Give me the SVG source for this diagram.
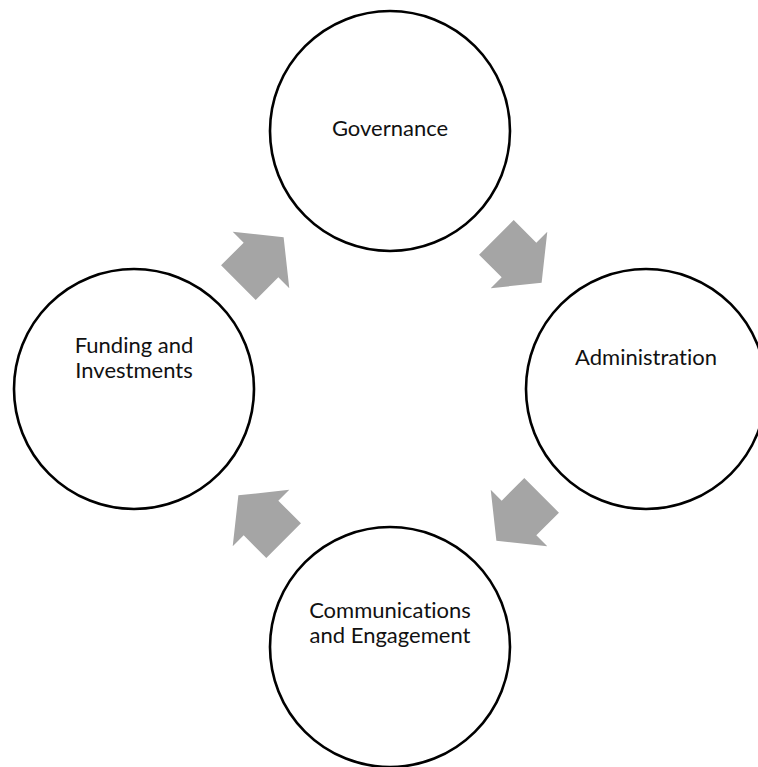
<svg xmlns="http://www.w3.org/2000/svg" width="758" height="767" viewBox="0 0 758 767">
<defs>
<style>
.node circle{fill:#fff;stroke:#000;stroke-width:2.6}
.node text{font-family:Lato,"Liberation Sans",sans-serif;font-size:22px;fill:#111;text-anchor:middle;font-variant-ligatures:none;font-feature-settings:"liga" 0,"clig" 0}
.arrow{fill:#A5A5A5}
</style>
<path id="arr" d="M-32,-24.5 H0 V-40 L32,0 L0,40 V24.5 H-32 Z"/>
</defs>
<rect width="758" height="767" fill="#fff"/>
<g id="connectors">
<use href="#arr" class="arrow" transform="translate(261,260) rotate(-45)"/>
<use href="#arr" class="arrow" transform="translate(519,260) rotate(45)"/>
<use href="#arr" class="arrow" transform="translate(519,518) rotate(135)"/>
<use href="#arr" class="arrow" transform="translate(261,518) rotate(-135)"/>
</g>
<g id="governance" class="node">
<circle cx="390" cy="131" r="120"/>
<text x="390" y="136">Governance</text>
</g>
<g id="administration" class="node">
<circle cx="646" cy="389" r="120"/>
<text x="646" y="365">Administration</text>
</g>
<g id="communications" class="node">
<circle cx="390" cy="647" r="120"/>
<text x="390" y="618">Communications</text>
<text x="390" y="642.5">and Engagement</text>
</g>
<g id="funding" class="node">
<circle cx="134" cy="389" r="120"/>
<text x="134" y="353">Funding and</text>
<text x="134" y="377.5">Investments</text>
</g>
</svg>
